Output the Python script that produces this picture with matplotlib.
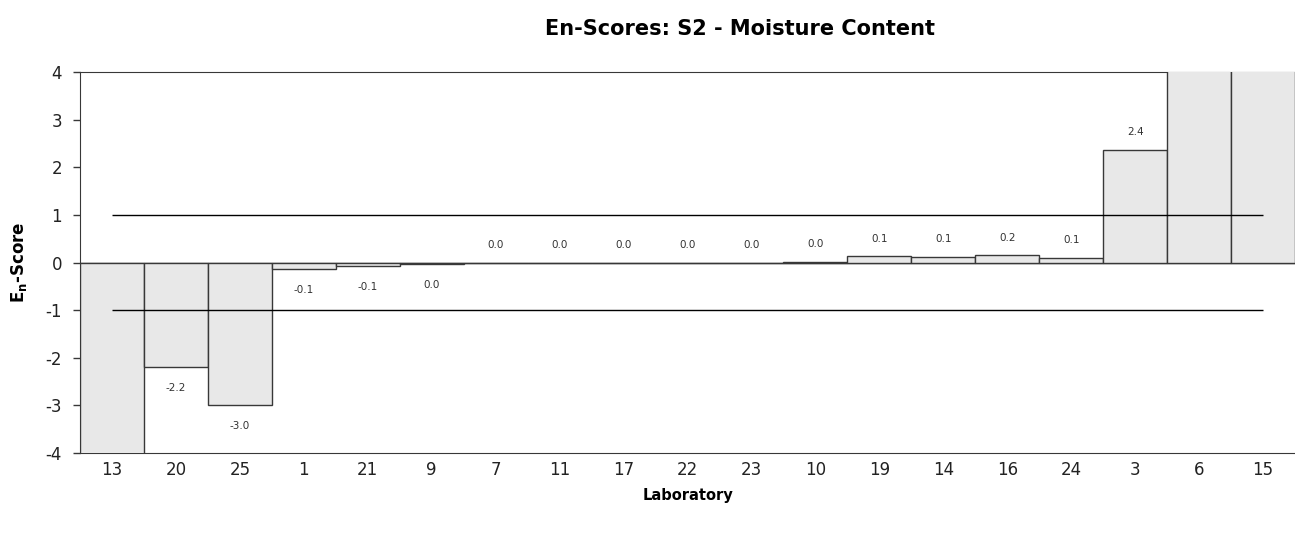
import numpy as np
import matplotlib.pyplot as plt

plt.rcParams['font.family'] = ['DejaVu Sans']
plt.rcParams['axes.unicode_minus'] = False

labs = ['13', '20', '25', '1', '21', '9', '7', '11', '17', '22', '23',
        '10', '19', '14', '16', '24', '3', '6', '15']
# scores; 13, 6 and 15 run off the -4..4 scale
scores = [-8.0, -2.2, -3.0, -0.13, -0.08, -0.03, 0.0, 0.0, 0.0, 0.0, 0.0,
          0.02, 0.13, 0.12, 0.16, 0.1, 2.37, 7.0, 9.0]
limit = 1.0

x = np.arange(len(labs))
s = np.array(scores)

fig = plt.figure(figsize=(12.95, 5.33), dpi=100)
ax = fig.add_axes([80 / 1295, 1 - 453 / 533, 1 - 80 / 1295, (453 - 72) / 533])

ax.bar(x, s, width=1.0, color='#e8e8e8', edgecolor='#383838', linewidth=1.0, zorder=3)
ax.hlines([limit, -limit], x[0], x[-1], color='black', linewidth=1.0, zorder=4)
ax.axhline(0, color='#383838', linewidth=1.0, zorder=2)

for xi, v in zip(x, s):
    if abs(v) > 4:
        continue
    txt = f'{abs(v):.1f}' if round(v, 1) == 0 else f'{v:.1f}'
    off = 12.5 if v >= 0 else -15
    ax.annotate(txt, (xi, v), xytext=(0, off), textcoords='offset points',
                ha='center', va='center', fontsize=7.5, color='#333333')

ax.set_xlim(-0.5, len(labs) - 0.5)
ax.set_ylim(-4, 4)
ax.set_yticks(np.arange(-4, 5, 1))
ax.set_xticks(x)
ax.set_xticklabels(labs)
ax.tick_params(axis='x', length=0, pad=6, labelsize=12, labelcolor='#222222')
ax.tick_params(axis='y', length=5, width=1, pad=8, labelsize=12,
               color='#383838', labelcolor='#222222')

for sp in ['top', 'bottom', 'left']:
    ax.spines[sp].set_color('#383838')
    ax.spines[sp].set_zorder(1)
ax.spines['right'].set_visible(False)

fig.text(740 / 1295, 1 - 29 / 533, 'En-Scores: S2 - Moisture Content',
         fontsize=15, fontweight='bold', ha='center', va='center')
ax.set_xlabel('Laboratory', fontsize=10.5, fontweight='bold', labelpad=6)
ax.set_ylabel(r'E$_\mathregular{n}$-Score', fontsize=12, fontweight='bold', labelpad=12)

fig.savefig('out.png', dpi=100)
